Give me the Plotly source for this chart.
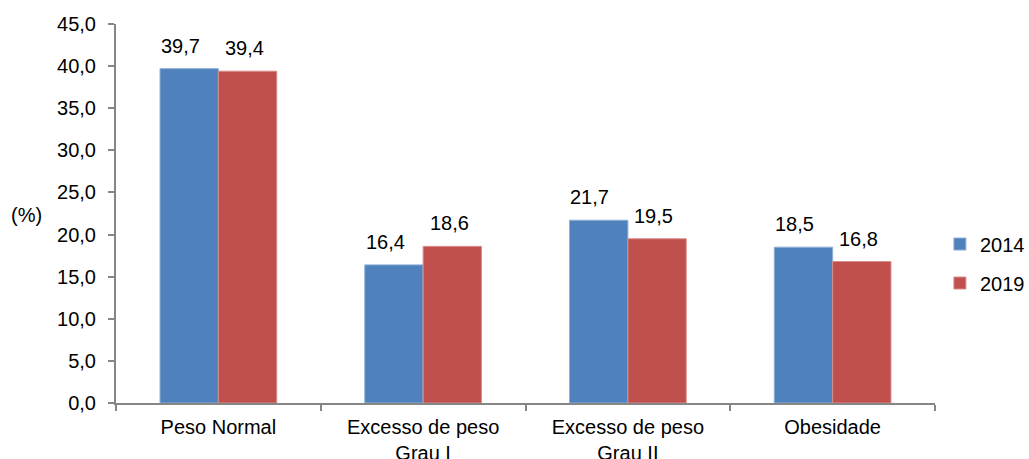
import plotly.graph_objects as go

categories = ["Peso Normal", "Excesso de peso<br>Grau I", "Excesso de peso<br>Grau II", "Obesidade"]
years = ["2014", "2019"]
values_2014 = [39.7, 16.4, 21.7, 18.5]
values_2019 = [39.4, 18.6, 19.5, 16.8]
colors = ["#4F81BD", "#C0504D"]
edge_colors = ["#8EAED6", "#D88E8C"]
tick_vals = [0, 5, 10, 15, 20, 25, 30, 35, 40, 45]

FONT = "Liberation Sans, Arial, sans-serif"
FS = 20

fig = go.Figure()
for name, vals, col, edge in zip(years, [values_2014, values_2019], colors, edge_colors):
    fig.add_trace(go.Bar(
        name=name, x=categories, y=vals, legendgroup=name,
        marker=dict(color=col, line=dict(color=edge, width=1)),
    ))

# value labels above each bar
for shift, vals in zip([-38, 26], [values_2014, values_2019]):
    for c, v in zip(categories, vals):
        fig.add_annotation(
            x=c, y=v, xref="x", yref="y", xshift=shift, yshift=23,
            text=f"{v:.1f}".replace(".", ","), showarrow=False,
            font=dict(size=FS, color="#000000", family=FONT),
        )

# unit label left of the value axis
fig.add_annotation(
    x=-0.109, y=0.496, xref="paper", yref="paper", text="(%)", showarrow=False,
    xanchor="center", yanchor="middle",
    font=dict(size=FS, color="#000000", family=FONT),
)

fig.update_layout(
    width=1029, height=459,
    margin=dict(l=116, r=94, t=24, b=56, autoexpand=False),
    paper_bgcolor="white", plot_bgcolor="white",
    barmode="group", bargap=0.43, bargroupgap=0,
    separators=",.",
    font=dict(family=FONT, size=FS, color="#000000"),
    showlegend=True,
    legend=dict(
        x=1.006, y=0.368, xanchor="left", yanchor="middle",
        font=dict(size=FS, family=FONT), itemwidth=30, tracegroupgap=10,
        traceorder="grouped", bgcolor="rgba(0,0,0,0)",
    ),
    xaxis=dict(
        showline=True, linecolor="#868686", linewidth=2,
        ticks="outside", ticklen=6, tickcolor="#868686", tickwidth=2,
        tickson="boundaries", showgrid=False, automargin=False,
        ticklabelstandoff=5,
        tickfont=dict(size=FS, family=FONT),
    ),
    yaxis=dict(
        range=[0, 45], tickvals=tick_vals, tickformat=".1f",
        showline=True, linecolor="#868686", linewidth=2,
        ticks="outside", ticklen=6, tickcolor="#868686", tickwidth=2,
        ticklabelstandoff=8, automargin=False,
        showgrid=False, zeroline=False,
        tickfont=dict(size=FS, family=FONT),
    ),
)

fig.write_html("out.html")
